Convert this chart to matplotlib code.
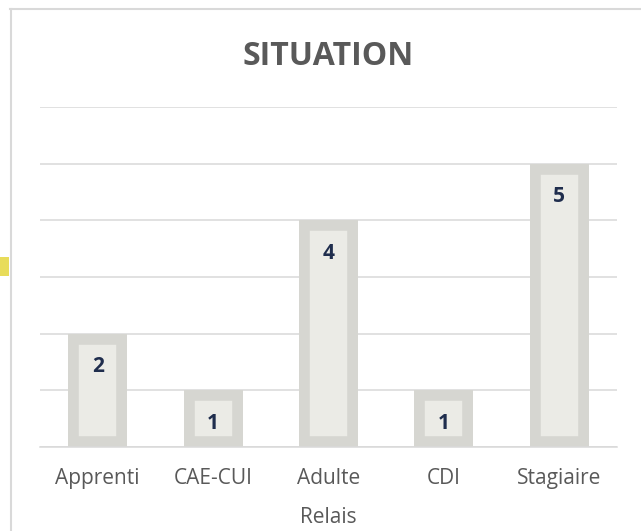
import numpy as np
import matplotlib
matplotlib.use("Agg")
import matplotlib.pyplot as plt
from matplotlib.lines import Line2D
from matplotlib.patches import Rectangle

categories = ["Apprenti", "CAE-CUI", "Adulte\nRelais", "CDI", "Stagiaire"]
values = [2, 1, 4, 1, 5]
title = "SITUATION"

plt.rcParams['font.family'] = ['Open Sans', 'DejaVu Sans']

fig = plt.figure(figsize=(6.41, 5.31), dpi=100)
ax = fig.add_axes([40/641, 1 - 447/531, 577/641, 340/531])

x = np.arange(len(categories))
bars = ax.bar(x, values, width=0.51, color="#ebebe6", edgecolor="#d6d6d1",
              linewidth=15.5, zorder=2)
for b in bars:
    b.set_clip_path(b)

for xi, v in zip(x, values):
    ax.annotate(str(v), (xi, v), xytext=(0, -24), textcoords="offset points",
                ha="center", va="center", fontsize=15, fontweight="bold",
                color="#1f2d4d", zorder=3)

ax.set_xlim(-0.5, len(categories) - 0.5)
ax.set_ylim(0, 6)
ax.set_yticks(range(0, 7))
ax.set_yticklabels([])
ax.tick_params(axis="y", length=0)
ax.grid(axis="y", color="#d9d9d9", linewidth=1.1, zorder=0)
ax.set_axisbelow(True)

ax.set_xticks(x)
ax.set_xticklabels(categories, fontsize=15, color="#595959", linespacing=2.15)
ax.tick_params(axis="x", length=0, pad=15)

for s in ["top", "right", "left"]:
    ax.spines[s].set_visible(False)
ax.spines["bottom"].set_color("#d9d9d9")
ax.spines["bottom"].set_linewidth(1.1)
ax.spines["bottom"].set_zorder(3)

ax.set_title(title, fontsize=23, fontweight="bold", color="#595959", pad=30)

# chart frame and the stray yellow mark at the left
fig.add_artist(Line2D([10/641, 1], [1 - 8.5/531, 1 - 8.5/531],
                      transform=fig.transFigure, color="#d9d9d9", linewidth=1.5))
fig.add_artist(Line2D([10.5/641, 10.5/641], [0, 1 - 8.5/531],
                      transform=fig.transFigure, color="#d9d9d9", linewidth=1.5))
fig.add_artist(Rectangle((0, 1 - 276/531), 9/641, 19/531,
                         transform=fig.transFigure, color="#e8dc5a", linewidth=0))

fig.savefig("out.png", dpi=100)
